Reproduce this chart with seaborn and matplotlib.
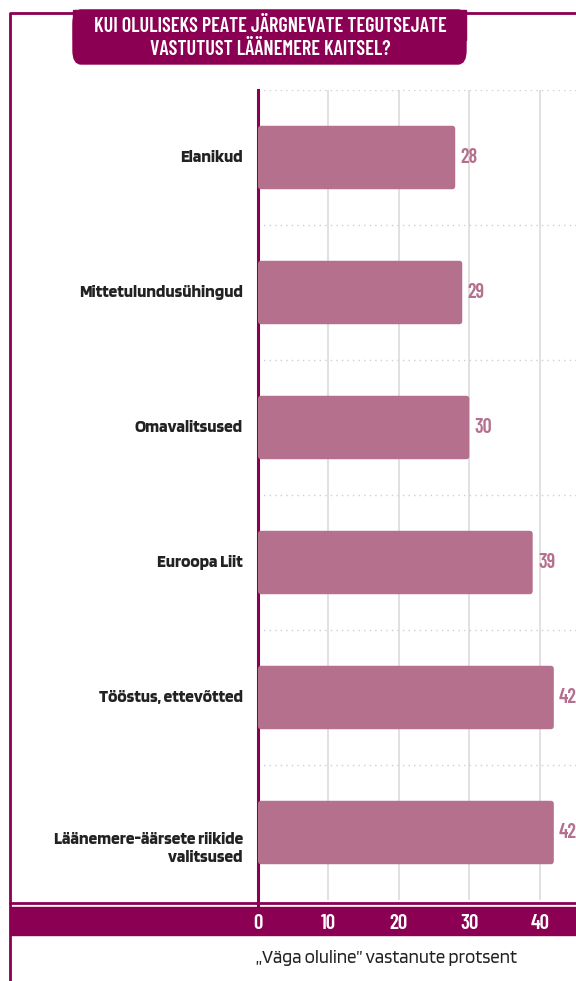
import matplotlib
matplotlib.use("Agg")
import matplotlib.pyplot as plt
import matplotlib.patches as mpatches
import matplotlib.lines as mlines
import pandas as pd
import seaborn as sns

# data
categories = ["Elanikud", "Mittetulundusühingud", "Omavalitsused", "Euroopa Liit",
              "Tööstus, ettevõtted", "Läänemere-äärsete riikide\nvalitsused"]
values = [28, 29, 30, 39, 42, 42]
ticks = [0, 10, 20, 30, 40]
title = "KUI OLULISEKS PEATE JÄRGNEVATE TEGUTSEJATE\nVASTUTUST LÄÄNEMERE KAITSEL?"
xlabel = "„Väga oluline” vastanute protsent"

MAGENTA = "#8B0052"
BAR = "#B5708E"
BODY = ["Blinker", "DejaVu Sans"]
COND = ["Barlow Condensed", "DejaVu Sans"]

sns.set_style("white")
plt.rcParams["font.family"] = BODY

df = pd.DataFrame({"cat": categories, "val": values})

W, H = 576, 981
fig = plt.figure(figsize=(W / 100, H / 100), dpi=100)
ax = fig.add_axes([258 / W, 1 - 900 / H, 1 - 258 / W, 810 / H])

sns.barplot(data=df, x="val", y="cat", color=BAR, width=0.47, saturation=1, ax=ax, zorder=3)
ax.set_xlim(0, 45.15)
ax.set_ylim(5.5, -0.5)

# swap the plain bars for ones with slightly rounded corners
px_x = (W - 258) / 45.15
px_y = 810 / 6
for p in list(ax.patches):
    x, y, w, h = p.get_x(), p.get_y(), p.get_width(), p.get_height()
    p.remove()
    ax.add_patch(mpatches.FancyBboxPatch((x, y), w, h, boxstyle="round,pad=0,rounding_size=0.45",
                                         mutation_aspect=px_x / px_y, color=BAR, lw=0, zorder=3))

for t in ticks[1:]:
    ax.axvline(t, color="#dcdcdc", lw=1.2, zorder=1)
for i in range(len(categories)):
    ax.axhline(i - 0.5, color="#cfcfcf", lw=1, ls=(0, (1, 3)), zorder=1)

for i, v in enumerate(values):
    ax.text(v + 0.75, i, f"{v}", color=BAR, fontsize=14.5, fontweight="semibold",
            family=COND, va="center", ha="left")

# category labels (last one sits a little lower in the reference)
ax.set_yticks([])
for i, c in enumerate(categories):
    dy = 0.12 if "\n" in c else 0.0
    ax.text(-15 / (W - 258), i + dy, c, transform=ax.get_yaxis_transform(), ha="right",
            va="center", fontsize=12.5, fontweight="bold", color="#222222", linespacing=1.2)

sns.despine(ax=ax, top=True, right=True, bottom=True, left=False)
ax.spines["left"].set_color(MAGENTA)
ax.spines["left"].set_linewidth(2.2)
ax.spines["left"].set_bounds(5.56, -0.5)

ax.set_xticks(ticks)
ax.set_xticklabels([str(t) for t in ticks])
ax.tick_params(axis="x", length=0, pad=10, labelcolor="white", labelsize=15)
for lab in ax.get_xticklabels():
    lab.set_fontweight("semibold")
    lab.set_family(COND)
ax.set_xlabel("")
ax.set_ylabel("")

# bottom band and line
fig.add_artist(mpatches.Rectangle((10 / W, 1 - 935 / H), 1, 28 / H, transform=fig.transFigure,
                                  color=MAGENTA, zorder=0))
fig.add_artist(mlines.Line2D([10 / W, 1], [1 - 903 / H] * 2, transform=fig.transFigure,
                             color=MAGENTA, lw=2))
# outer frame
fig.add_artist(mlines.Line2D([10 / W, 10 / W, 1], [0, 1 - 13 / H, 1 - 13 / H],
                             transform=fig.transFigure, color=MAGENTA, lw=2))

# title banner
fig.add_artist(mpatches.FancyBboxPatch((73 / W, 1 - 64 / H), 393 / W, 54 / H,
                                       boxstyle="round,pad=0,rounding_size=0.014",
                                       transform=fig.transFigure, color=MAGENTA, zorder=5))
fig.add_artist(mpatches.Rectangle((73 / W, 1 - 40 / H), 393 / W, 30 / H,
                                  transform=fig.transFigure, color=MAGENTA, zorder=5))
fig.text(270 / W, 1 - 38 / H, title, color="white", fontsize=14.5, fontweight="semibold",
         family=COND, ha="center", va="center", linespacing=1.3, zorder=6)

fig.text(386 / W, 1 - 958 / H, xlabel, color="#222222", fontsize=13.5, ha="center", va="center")

fig.savefig("out.png", dpi=100)
